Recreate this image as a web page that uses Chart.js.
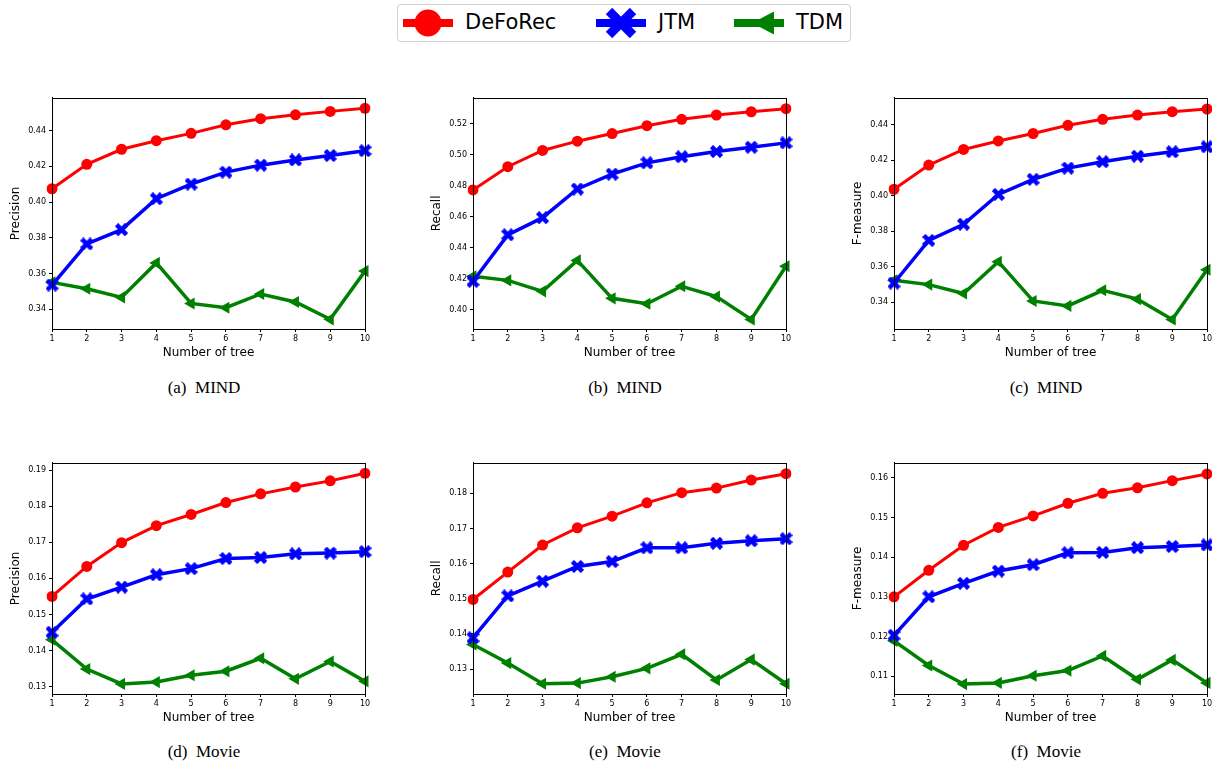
<!DOCTYPE html>
<html>
<head>
<meta charset="utf-8">
<script src="https://cdn.jsdelivr.net/npm/chart.js@4.4.0/dist/chart.umd.min.js"></script>
<style>
body { margin: 0; width: 1212px; height: 765px; background: #fff; position: relative; overflow: hidden; font-family: 'DejaVu Sans', sans-serif; }
canvas.panel { position: absolute; }
.cap { position: absolute; font-family: 'Liberation Serif', serif; font-size: 17px; transform: translate(-50%, -50%); white-space: pre; color: #000; }
#legend { position: absolute; left: 397px; top: 4px; width: 452px; height: 36px; border: 1.5px solid #d0d0d0; border-radius: 4px; background: #fff; }
#legend svg, #legend span { position: absolute; }
#legend span { font-size: 21px; top: 5px; color: #000; }
</style>
</head>
<body>

<div id="legend">
  <svg style="left:5px;top:3px" width="50" height="30"><line x1="0" y1="15" x2="50" y2="15" stroke="#ff0000" stroke-width="8"/><circle cx="25" cy="15" r="13.5" fill="#ff0000"/></svg>
  <span style="left:67px">DeFoRec</span>
  <svg style="left:198px;top:3px" width="50" height="30"><line x1="0" y1="15" x2="50" y2="15" stroke="#0000ff" stroke-width="8"/><line x1="13" y1="3" x2="37" y2="27" stroke="#0000ff" stroke-width="9"/><line x1="37" y1="3" x2="13" y2="27" stroke="#0000ff" stroke-width="9"/></svg>
  <span style="left:260px">JTM</span>
  <svg style="left:336px;top:3px" width="50" height="30"><line x1="0" y1="15" x2="50" y2="15" stroke="#008000" stroke-width="8"/><polygon points="18,15 40,3.5 40,26.5" fill="#008000"/></svg>
  <span style="left:398px">TDM</span>
</div>

<canvas class="panel" id="pa" width="376" height="270" style="left:0px;top:90px"></canvas>
<canvas class="panel" id="pb" width="376" height="270" style="left:421px;top:90px"></canvas>
<canvas class="panel" id="pc" width="376" height="270" style="left:842px;top:90px"></canvas>
<canvas class="panel" id="pd" width="376" height="270" style="left:0px;top:455px"></canvas>
<canvas class="panel" id="pe" width="376" height="270" style="left:421px;top:455px"></canvas>
<canvas class="panel" id="pf" width="376" height="270" style="left:842px;top:455px"></canvas>

<div class="cap" style="left:204px;top:388px">(a)  MIND</div>
<div class="cap" style="left:625px;top:388px">(b)  MIND</div>
<div class="cap" style="left:1046px;top:388px">(c)  MIND</div>
<div class="cap" style="left:204px;top:752px">(d)  Movie</div>
<div class="cap" style="left:625px;top:752px">(e)  Movie</div>
<div class="cap" style="left:1046px;top:752px">(f)  Movie</div>

<script>
// number of trees
const treeLabels = ['1', '2', '3', '4', '5', '6', '7', '8', '9', '10'];

// MIND
const mindPrecisionDeFoRec = [0.4075, 0.4212, 0.4296, 0.4344, 0.4385, 0.4433, 0.4467, 0.4489, 0.4508, 0.4525];
const mindPrecisionJTM     = [0.3536, 0.3766, 0.3846, 0.4019, 0.4101, 0.4168, 0.4207, 0.4236, 0.4261, 0.4288];
const mindPrecisionTDM     = [0.3551, 0.3515, 0.3467, 0.3660, 0.3433, 0.3409, 0.3486, 0.3441, 0.3344, 0.3614];

const mindRecallDeFoRec = [0.4774, 0.4924, 0.5029, 0.5089, 0.5138, 0.5189, 0.5230, 0.5258, 0.5279, 0.5299];
const mindRecallJTM     = [0.4184, 0.4484, 0.4595, 0.4780, 0.4876, 0.4949, 0.4988, 0.5022, 0.5050, 0.5078];
const mindRecallTDM     = [0.4216, 0.4190, 0.4119, 0.4319, 0.4074, 0.4039, 0.4152, 0.4085, 0.3938, 0.4281];

const mindFDeFoRec = [0.4036, 0.4172, 0.4260, 0.4308, 0.4350, 0.4396, 0.4430, 0.4454, 0.4473, 0.4488];
const mindFJTM     = [0.3508, 0.3748, 0.3839, 0.4007, 0.4092, 0.4155, 0.4191, 0.4222, 0.4247, 0.4275];
const mindFTDM     = [0.3523, 0.3499, 0.3449, 0.3628, 0.3407, 0.3379, 0.3467, 0.3417, 0.3303, 0.3583];

// Movie
const moviePrecisionDeFoRec = [0.1550, 0.1633, 0.1699, 0.1746, 0.1777, 0.1810, 0.1834, 0.1853, 0.1870, 0.1891];
const moviePrecisionJTM     = [0.1451, 0.1543, 0.1576, 0.1610, 0.1627, 0.1655, 0.1658, 0.1668, 0.1670, 0.1674];
const moviePrecisionTDM     = [0.1430, 0.1349, 0.1308, 0.1313, 0.1332, 0.1343, 0.1379, 0.1322, 0.1370, 0.1315];

const movieRecallDeFoRec = [0.1498, 0.1576, 0.1653, 0.1702, 0.1735, 0.1773, 0.1802, 0.1815, 0.1838, 0.1856];
const movieRecallJTM     = [0.1389, 0.1508, 0.1550, 0.1592, 0.1606, 0.1645, 0.1645, 0.1658, 0.1665, 0.1671];
const movieRecallTDM     = [0.1370, 0.1317, 0.1258, 0.1260, 0.1278, 0.1302, 0.1342, 0.1269, 0.1327, 0.1258];

const movieFDeFoRec = [0.1300, 0.1367, 0.1430, 0.1475, 0.1504, 0.1536, 0.1561, 0.1575, 0.1593, 0.1610];
const movieFJTM     = [0.1203, 0.1300, 0.1334, 0.1365, 0.1381, 0.1411, 0.1412, 0.1424, 0.1427, 0.1431];
const movieFTDM     = [0.1189, 0.1127, 0.1080, 0.1083, 0.1101, 0.1114, 0.1151, 0.1092, 0.1141, 0.1083];

// y tick labels
const mindPrecisionTicks = [0.34, 0.36, 0.38, 0.40, 0.42, 0.44];
const mindRecallTicks = [0.40, 0.42, 0.44, 0.46, 0.48, 0.50, 0.52];
const mindFTicks = [0.34, 0.36, 0.38, 0.40, 0.42, 0.44];
const moviePrecisionTicks = [0.13, 0.14, 0.15, 0.16, 0.17, 0.18, 0.19];
const movieRecallTicks = [0.13, 0.14, 0.15, 0.16, 0.17, 0.18];
const movieFTicks = [0.11, 0.12, 0.13, 0.14, 0.15, 0.16];

const FONT = 'DejaVu Sans';

// filled X marker (matplotlib 'X')
function makeXMarker(size, thick) {
    const c = document.createElement('canvas');
    c.width = size; c.height = size;
    const g = c.getContext('2d');
    g.strokeStyle = '#0000ff';
    g.lineWidth = thick;
    g.beginPath();
    g.moveTo(1.5, 1.5); g.lineTo(size - 1.5, size - 1.5);
    g.moveTo(size - 1.5, 1.5); g.lineTo(1.5, size - 1.5);
    g.stroke();
    return c;
}
const xMarker = makeXMarker(13, 4.5);

// four spines like matplotlib
const frame = {
    id: 'frame',
    afterDatasetsDraw(chart) {
        const a = chart.chartArea, ctx = chart.ctx;
        ctx.save();
        ctx.strokeStyle = '#000';
        ctx.lineWidth = 1;
        ctx.strokeRect(Math.round(a.left) + 0.5, Math.round(a.top) + 0.5, Math.round(a.right - a.left), Math.round(a.bottom - a.top));
        ctx.restore();
    }
};

function drawPanel(id, yTitle, yMin, yMax, yTicks, red, blue, green) {
    const ctx = document.getElementById(id).getContext('2d');
    new Chart(ctx, {
        type: 'line',
        data: {
            labels: treeLabels,
            datasets: [
                { label: 'DeFoRec', data: red, borderColor: '#ff0000', backgroundColor: '#ff0000',
                  borderWidth: 3, pointStyle: 'circle', pointRadius: 5.5, pointBorderWidth: 0, pointBackgroundColor: '#ff0000' },
                { label: 'JTM', data: blue, borderColor: '#0000ff', backgroundColor: '#0000ff',
                  borderWidth: 3.5, pointStyle: xMarker, pointRadius: 6 },
                { label: 'TDM', data: green, borderColor: '#008000', backgroundColor: '#008000',
                  borderWidth: 3.5, pointStyle: 'triangle', pointRotation: -90, pointRadius: 7, pointBorderWidth: 0, pointBackgroundColor: '#008000' }
            ]
        },
        options: {
            responsive: false,
            animation: false,
            layout: { autoPadding: false, padding: { top: 7, right: 11, left: 0, bottom: 0 } },
            plugins: { legend: { display: false }, tooltip: { enabled: false } },
            scales: {
                x: {
                    type: 'category',
                    offset: false,
                    grid: { drawOnChartArea: false, drawTicks: true, tickLength: 3, color: '#000' },
                    border: { display: true, color: '#000', width: 1 },
                    ticks: { font: { family: FONT, size: 8 }, color: '#000', padding: 2, maxRotation: 0, autoSkip: false },
                    title: { display: true, text: 'Number of tree', font: { family: FONT, size: 12 }, color: '#000', padding: { top: 0, bottom: 0 } },
                    afterFit: s => { s.height = 31; }
                },
                y: {
                    type: 'linear',
                    min: yMin,
                    max: yMax,
                    afterBuildTicks: s => { s.ticks = yTicks.map(v => ({ value: v })); },
                    grid: { drawOnChartArea: false, drawTicks: true, tickLength: 3, color: '#000' },
                    border: { display: true, color: '#000', width: 1 },
                    ticks: { font: { family: FONT, size: 8 }, color: '#000', padding: 3, callback: v => Number(v).toFixed(2) },
                    title: { display: true, text: yTitle, font: { family: FONT, size: 12 }, color: '#000', padding: { top: 9, bottom: 0 } },
                    afterFit: s => { s.width = 52; }
                }
            }
        },
        plugins: [frame]
    });
}

drawPanel('pa', 'Precision', 0.329, 0.4584, mindPrecisionTicks, mindPrecisionDeFoRec, mindPrecisionJTM, mindPrecisionTDM);
drawPanel('pb', 'Recall', 0.3876, 0.5369, mindRecallTicks, mindRecallDeFoRec, mindRecallJTM, mindRecallTDM);
drawPanel('pc', 'F-measure', 0.3249, 0.4551, mindFTicks, mindFDeFoRec, mindFJTM, mindFTDM);
drawPanel('pd', 'Precision', 0.1280, 0.1920, moviePrecisionTicks, moviePrecisionDeFoRec, moviePrecisionJTM, moviePrecisionTDM);
drawPanel('pe', 'Recall', 0.1229, 0.1887, movieRecallTicks, movieRecallDeFoRec, movieRecallJTM, movieRecallTDM);
drawPanel('pf', 'F-measure', 0.1055, 0.1638, movieFTicks, movieFDeFoRec, movieFJTM, movieFTDM);
</script>
</body>
</html>
